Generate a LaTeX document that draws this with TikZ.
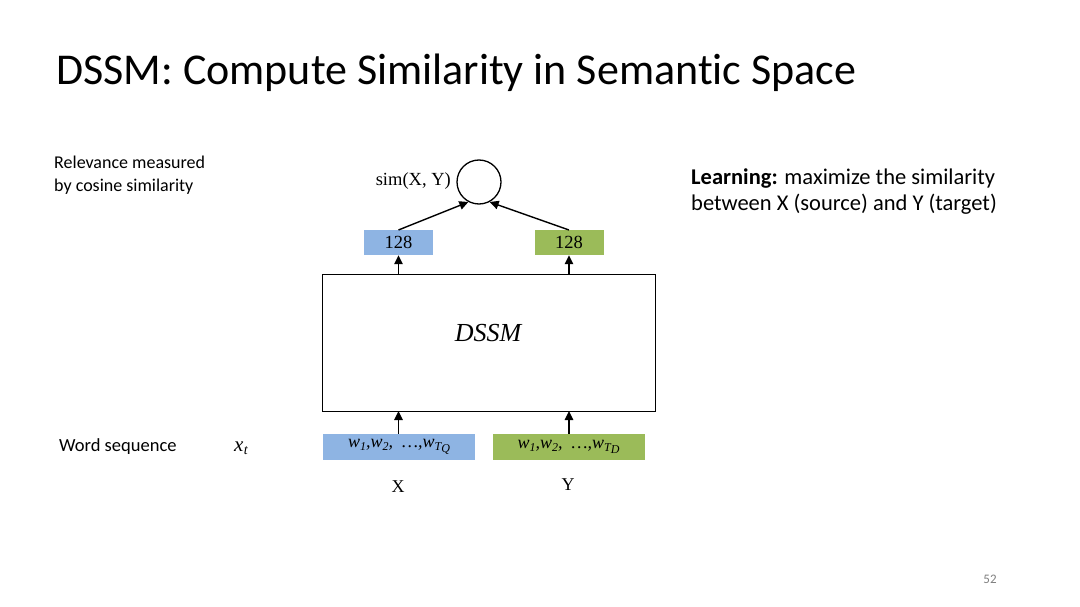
\documentclass[tikz,border=0pt]{standalone}
\usepackage{fontspec}
\setmainfont[Ligatures={NoCommon}]{Carlito}
\newfontfamily\tnr{Liberation Serif}
\usetikzlibrary{arrows.meta}
\definecolor{qblue}{HTML}{8EB4E3}
\definecolor{dgreen}{HTML}{9BBB59}
\newcommand{\wsub}[1]{\raisebox{-2.5pt}{\fontsize{12}{12}\selectfont #1}}
\begin{document}
\begin{tikzpicture}[x=1pt,y=-1pt,
  arr/.style={-{Triangle[length=9pt,width=8.5pt]},line width=1.4pt},
  vec/.style={inner sep=0pt,minimum width=69pt,minimum height=25pt,font=\tnr\fontsize{18.5}{18.5}\selectfont},
  seq/.style={inner sep=0pt,minimum width=152pt,minimum height=26pt,font=\tnr\itshape\fontsize{18}{18}\selectfont},
  lab/.style={inner sep=0pt,anchor=west,align=left}]
\useasboundingbox (0,0) rectangle (1080,607);
\fill[white] (0,0) rectangle (1080,607);
\node[lab,font=\fontsize{44}{44}\selectfont] (title) at (56,73) {DSSM: Compute Similarity in Semantic Space};
\node[lab,font=\fontsize{18}{23}\selectfont] (rel) at (54,175) {Relevance measured\\by cosine similarity};
\node[lab,font=\fontsize{22.5}{26}\selectfont] (learn) at (691,192) {\textbf{Learning:} maximize the similarity\\between X (source) and Y (target)};
\node[circle,draw,line width=1.3pt,minimum size=44pt,inner sep=0pt] (sim) at (479,182) {};
\node[inner sep=0pt,anchor=east,font=\tnr\fontsize{18.5}{18.5}\selectfont] (simlab) at (451,181) {sim(X, Y)};
\node[vec,fill=qblue] (q) at (398.5,242.5) {128};
\node[vec,fill=dgreen] (d) at (569,242.5) {128};
\node[draw,line width=0.8pt,minimum width=333pt,minimum height=137pt,inner sep=0pt] (dssm) at (488.5,342.5) {};
\node[font=\tnr\itshape\fontsize{26}{26}\selectfont] (dssmlab) at (488,333) {DSSM};
\node[seq,fill=qblue] (xq) at (399,447) {w\wsub{1},w\wsub{2}, \ \ldots,w\wsub{T\wsub{Q}}};
\node[seq,fill=dgreen] (xd) at (568.5,447) {w\wsub{1},w\wsub{2}, \ \ldots,w\wsub{T\wsub{D}}};
\node[font=\tnr\fontsize{18}{18}\selectfont] (X) at (398,487) {X};
\node[font=\tnr\fontsize{18}{18}\selectfont] (Y) at (568,485) {Y};
\node[lab,font=\fontsize{18.5}{18.5}\selectfont] (ws) at (59,447) {Word sequence};
\node[font=\tnr\itshape\fontsize{21}{21}\selectfont] (xt) at (241,448) {x\kern0.5pt\raisebox{-3pt}{\fontsize{14}{14}\selectfont t}};
\node[font=\fontsize{13}{13}\selectfont,text=gray] (pg) at (990,579) {52};
\coordinate (qtop) at (398.5,230);
\coordinate (dtop) at (569,230);
\draw[arr] (qtop) -- (sim.-118);
\draw[arr] (dtop) -- (sim.-62);
\draw[arr] (398.5,274) -- (q.south);
\draw[arr] (569,274) -- (d.south);
\draw[arr] (xq.north-|q) -- (398.5,411);
\draw[arr] (xd.north-|d) -- (569,411);
\end{tikzpicture}
\end{document}
